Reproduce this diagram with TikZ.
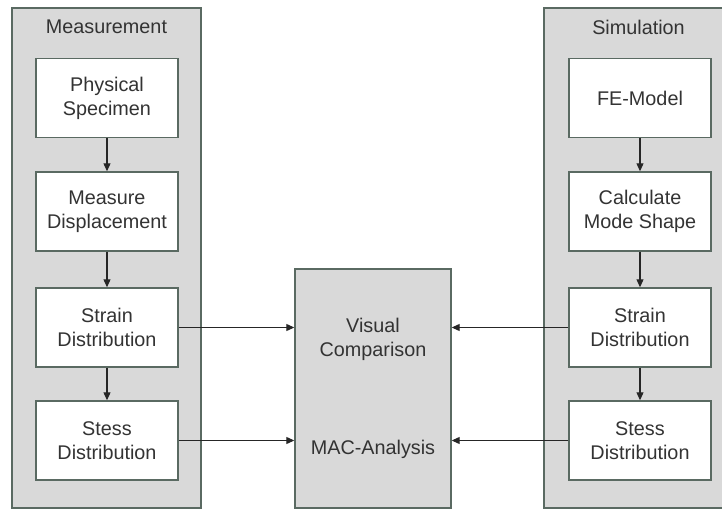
\documentclass[tikz,border=0pt]{standalone}
\usepackage{fontspec}
\setmainfont{Liberation Sans}
\usetikzlibrary{arrows.meta}
\definecolor{panelfill}{HTML}{D9D9D9}
\definecolor{edgecol}{HTML}{5A6A62}
\definecolor{txtcol}{HTML}{333333}
\begin{document}
\begin{tikzpicture}[x=1pt,y=-1pt,
  panel/.style={draw=edgecol,line width=1.4pt,fill=panelfill,inner sep=0pt},
  stepbox/.style={draw=edgecol,line width=1.4pt,fill=white,minimum width=142pt,minimum height=79pt,inner sep=0pt,align=center,text=txtcol,font=\fontsize{19.8}{24}\selectfont},
  lbl/.style={text=txtcol,font=\fontsize{19.8}{24}\selectfont,align=center,inner sep=0pt},
  arr/.style={draw=black!85,line width=1.1pt,-{Triangle[length=8pt,width=7pt]}}]
\clip (0,0) rectangle (722,510);
\fill[white] (0,0) rectangle (722,510);
% panels
\node[panel,minimum width=189pt,minimum height=500pt] (LP) at (106.5,258) {};
\node[panel,minimum width=189pt,minimum height=500pt] (RP) at (638.5,258) {};
\node[panel,minimum width=156pt,minimum height=239pt] (C) at (373,388.5) {};
% titles
\node[lbl] (LT) at (106.5,27) {Measurement};
\node[lbl] (RT) at (638.5,27) {Simulation};
% left column
\node[stepbox] (L1) at (107,98) {Physical\\Specimen};
\node[stepbox] (L2) at (107,211.5) {Measure\\Displacement};
\node[stepbox] (L3) at (107,327.5) {Strain\\Distribution};
\node[stepbox] (L4) at (107,440.5) {Stess\\Distribution};
% right column
\node[stepbox] (R1) at (640,98) {FE-Model};
\node[stepbox] (R2) at (640,211.5) {Calculate\\Mode Shape};
\node[stepbox] (R3) at (640,327.5) {Strain\\Distribution};
\node[stepbox] (R4) at (640,440.5) {Stess\\Distribution};
% center texts
\node[lbl] (CV) at (373,339) {Visual\\Comparison};
\node[lbl] (CM) at (373,449) {MAC-Analysis};
% arrows
\draw[arr] (L1.south) -- (L2.north);
\draw[arr] (L2.south) -- (L3.north);
\draw[arr] (L3.south) -- (L4.north);
\draw[arr] (R1.south) -- (R2.north);
\draw[arr] (R2.south) -- (R3.north);
\draw[arr] (R3.south) -- (R4.north);
\draw[arr] (L3.east) -- (L3.east -| C.west);
\draw[arr] (L4.east) -- (L4.east -| C.west);
\draw[arr] (R3.west) -- (R3.west -| C.east);
\draw[arr] (R4.west) -- (R4.west -| C.east);
\end{tikzpicture}
\end{document}
